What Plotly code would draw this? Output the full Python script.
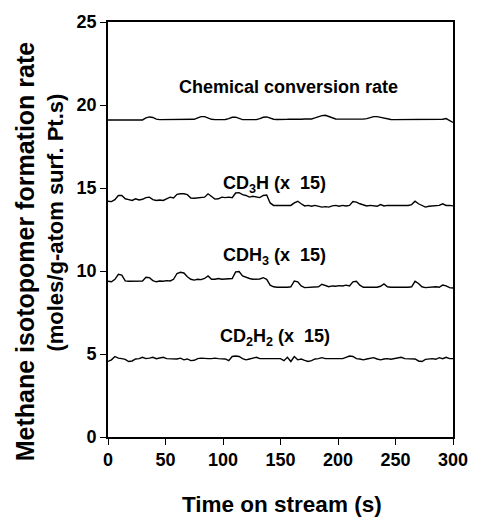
import plotly.graph_objects as go

# Time on stream (s), sampled every 3 s
time_s = [0, 3, 6, 9, 12, 15, 18, 21, 24, 27,
          30, 33, 36, 39, 42, 45, 48, 51, 54, 57,
          60, 63, 66, 69, 72, 75, 78, 81, 84, 87,
          90, 93, 96, 99, 102, 105, 108, 111, 114, 117,
          120, 123, 126, 129, 132, 135, 138, 141, 144, 147,
          150, 153, 156, 159, 162, 165, 168, 171, 174, 177,
          180, 183, 186, 189, 192, 195, 198, 201, 204, 207,
          210, 213, 216, 219, 222, 225, 228, 231, 234, 237,
          240, 243, 246, 249, 252, 255, 258, 261, 264, 267,
          270, 273, 276, 279, 282, 285, 288, 291, 294, 297,
          300]

# Overall chemical conversion rate
chemical_rate = [19.10, 19.10, 19.10, 19.10, 19.10, 19.10, 19.10, 19.10, 19.10, 19.10,
                 19.10, 19.22, 19.28, 19.25, 19.15, 19.12, 19.12, 19.13, 19.15, 19.14,
                 19.12, 19.12, 19.13, 19.12, 19.12, 19.14, 19.22, 19.30, 19.30, 19.22,
                 19.14, 19.12, 19.12, 19.14, 19.13, 19.18, 19.26, 19.27, 19.18, 19.12,
                 19.12, 19.13, 19.12, 19.12, 19.18, 19.26, 19.28, 19.20, 19.14, 19.13,
                 19.12, 19.12, 19.14, 19.15, 19.14, 19.13, 19.14, 19.16, 19.15, 19.16,
                 19.22, 19.30, 19.36, 19.38, 19.32, 19.22, 19.16, 19.15, 19.15, 19.14,
                 19.15, 19.14, 19.13, 19.14, 19.15, 19.18, 19.26, 19.30, 19.30, 19.26,
                 19.20, 19.14, 19.13, 19.12, 19.12, 19.14, 19.13, 19.12, 19.12, 19.13,
                 19.12, 19.12, 19.13, 19.12, 19.12, 19.13, 19.12, 19.14, 19.18, 19.05,
                 18.95]

# CD3H formation rate, multiplied by 15
cd3h_x15 = [14.20, 14.18, 14.30, 14.55, 14.55, 14.35, 14.30, 14.25, 14.35, 14.28,
            14.32, 14.42, 14.45, 14.30, 14.25, 14.28, 14.25, 14.35, 14.45, 14.40,
            14.62, 14.65, 14.65, 14.60, 14.40, 14.38, 14.40, 14.40, 14.45, 14.65,
            14.50, 14.33, 14.35, 14.45, 14.42, 14.45, 14.42, 14.70, 14.72, 14.60,
            14.55, 14.45, 14.50, 14.45, 14.42, 14.55, 14.58, 14.10, 13.95, 13.95,
            13.95, 13.95, 13.96, 13.95, 14.10, 14.20, 14.05, 13.92, 13.95, 13.90,
            13.95, 13.92, 13.85, 13.88, 13.85, 13.92, 13.95, 13.90, 13.95, 13.92,
            13.95, 14.18, 14.15, 14.05, 14.00, 13.92, 13.95, 13.92, 13.90, 14.00,
            13.92, 13.95, 13.95, 13.92, 13.95, 13.92, 13.95, 13.95, 14.00, 14.20,
            14.05, 13.95, 13.85, 13.90, 13.92, 13.90, 13.95, 14.05, 13.95, 13.95,
            13.92]

# CDH3 formation rate, multiplied by 15
cdh3_x15 = [9.38, 9.35, 9.50, 9.80, 9.75, 9.40, 9.38, 9.38, 9.38, 9.38,
            9.40, 9.62, 9.60, 9.42, 9.35, 9.40, 9.38, 9.42, 9.40, 9.50,
            9.85, 9.92, 9.88, 9.65, 9.50, 9.45, 9.50, 9.48, 9.55, 9.70,
            9.50, 9.50, 9.55, 9.50, 9.52, 9.50, 9.55, 9.95, 9.97, 9.70,
            9.60, 9.55, 9.50, 9.50, 9.52, 9.60, 9.50, 9.15, 9.05, 9.02,
            9.02, 9.00, 9.02, 9.05, 9.40, 9.35, 9.10, 9.00, 9.02, 9.00,
            9.02, 9.05, 9.20, 9.10, 9.05, 9.10, 9.08, 9.12, 9.10, 9.15,
            9.10, 9.35, 9.38, 9.15, 9.02, 9.02, 9.00, 9.02, 9.02, 9.08,
            9.22, 9.05, 9.02, 9.00, 9.02, 9.03, 9.02, 9.02, 9.05, 9.38,
            9.25, 9.05, 9.00, 9.02, 9.00, 9.05, 9.02, 9.15, 9.10, 9.00,
            8.98]

# CD2H2 formation rate, multiplied by 15
cd2h2_x15 = [4.55, 4.65, 4.85, 4.75, 4.72, 4.68, 4.55, 4.58, 4.70, 4.72,
             4.80, 4.72, 4.75, 4.80, 4.72, 4.75, 4.80, 4.72, 4.70, 4.72,
             4.70, 4.75, 4.65, 4.70, 4.60, 4.62, 4.72, 4.75, 4.72, 4.72,
             4.72, 4.75, 4.72, 4.72, 4.70, 4.60, 4.85, 4.88, 4.85, 4.72,
             4.65, 4.70, 4.75, 4.80, 4.72, 4.72, 4.72, 4.72, 4.72, 4.72,
             4.72, 4.60, 4.80, 4.55, 4.85, 4.65, 4.70, 4.62, 4.55, 4.60,
             4.70, 4.72, 4.78, 4.72, 4.72, 4.72, 4.72, 4.72, 4.72, 4.80,
             4.88, 4.85, 4.72, 4.70, 4.65, 4.70, 4.72, 4.78, 4.70, 4.65,
             4.70, 4.72, 4.68, 4.72, 4.78, 4.80, 4.72, 4.70, 4.72, 4.70,
             4.58, 4.55, 4.68, 4.70, 4.72, 4.68, 4.78, 4.72, 4.80, 4.72,
             4.72]

x_ticks = [0, 50, 100, 150, 200, 250, 300]
y_ticks = [0, 5, 10, 15, 20, 25]

series = [chemical_rate, cd3h_x15, cdh3_x15, cd2h2_x15]

# Curve labels: (text, x, y) in data units
labels = [
    ("Chemical conversion rate", 157, 21.1),
    ("CD<sub>3</sub>H (x  15)", 145, 15.2),
    ("CDH<sub>3</sub> (x  15)", 145, 10.9),
    ("CD<sub>2</sub>H<sub>2</sub> (x  15)", 145, 6.0),
]

FONT = "Liberation Sans, Arial, sans-serif"

# Plot-area geometry in pixels, used to place the axis titles
PLOT_L, PLOT_R, PLOT_T, PLOT_B = 108, 463, 20, 437
PLOT_W, PLOT_H = PLOT_R - PLOT_L, PLOT_B - PLOT_T


def px_to_paper(px, py):
    return (px - PLOT_L) / PLOT_W, (PLOT_B - py) / PLOT_H


fig = go.Figure()
for ys in series:
    fig.add_trace(go.Scatter(x=time_s, y=ys, mode="lines",
                             line=dict(color="black", width=1.4),
                             showlegend=False, hoverinfo="skip"))

annotations = []
for text, lx, ly in labels:
    annotations.append(dict(text=text, x=lx, y=ly, xref="x", yref="y",
                            showarrow=False, xanchor="center", yanchor="middle",
                            font=dict(family=FONT, size=18, color="black", weight="bold")))

# Axis titles
titles = [
    ("Time on stream (s)", 287, 505, 0, 22.5),
    ("Methane isotopomer formation rate", 22, 250, -90, 25),
    ("(moles/g-atom surf. Pt.s)", 53, 222, -90, 22),
]
for text, px, py, angle, size in titles:
    ax, ay = px_to_paper(px, py)
    annotations.append(dict(text=text, x=ax, y=ay, xref="paper", yref="paper",
                            showarrow=False, textangle=angle,
                            xanchor="center", yanchor="middle",
                            font=dict(family=FONT, size=size, color="black", weight="bold")))

axis_common = dict(showgrid=False, zeroline=False, showline=True, linecolor="black",
                   linewidth=1.6, mirror=True, ticks="outside", ticklen=6,
                   tickwidth=1.4, tickcolor="black",
                   tickfont=dict(family=FONT, size=18, color="black", weight="bold"))

fig.update_layout(
    width=480, height=518,
    margin=dict(l=PLOT_L, r=480 - PLOT_R, t=PLOT_T, b=518 - PLOT_B),
    paper_bgcolor="white", plot_bgcolor="white",
    xaxis=dict(range=[0, 300], tickvals=x_ticks, **axis_common),
    yaxis=dict(range=[0, 25], tickvals=y_ticks, **axis_common),
    annotations=annotations,
)

fig.write_html("out.html")
